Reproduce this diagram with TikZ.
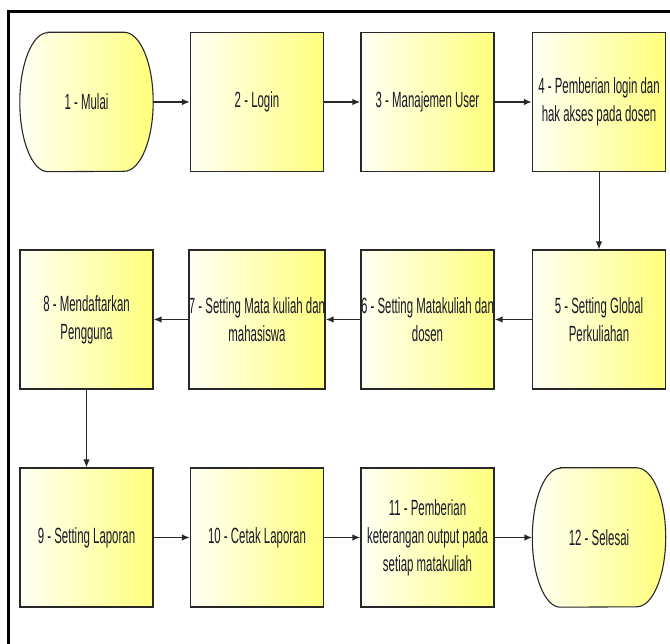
\documentclass[tikz,border=0pt]{standalone}
\usepackage{fontspec}
\setmainfont{Liberation Sans}[FakeStretch=0.52]
\usetikzlibrary{arrows.meta}
\definecolor{boxleft}{RGB}{255,255,245}
\definecolor{boxright}{RGB}{255,255,125}
\definecolor{txt}{RGB}{25,25,40}
\definecolor{edge}{RGB}{40,40,40}
\tikzset{
  x=1bp, y=1bp,
  label text/.style={font=\fontsize{22bp}{28bp}\selectfont, text=txt, align=center, inner sep=0pt},
  procbox/.style={label text, draw=edge, line width=1.3bp, shading=axis, left color=boxleft, right color=boxright,
    minimum width=133bp, minimum height=139bp},
  termbox/.style={label text, minimum width=133bp, minimum height=139bp},
  termshape/.style={draw=edge, line width=1.1bp, shading=axis, left color=boxleft, right color=boxright},
  flow/.style={draw=edge, line width=1.4bp, -{Latex[length=8bp,width=6.5bp]}},
  vflow/.style={flow, line width=1bp},
  frameline/.style={draw=black, line width=2.5bp}
}
\begin{document}
\begin{tikzpicture}
\useasboundingbox (0,0) rectangle (670,644);
\clip (0,0) rectangle (670,644);
\fill[white] (0,0) rectangle (670,644);
% outer frame
\coordinate (fbl) at (8.5,-10);
\coordinate (ftr) at (690,632.5);
\draw[frameline] (fbl) |- (ftr);

% terminal shapes (drawn behind their nodes)
\newcommand{\termpath}[1]{%
  \path[termshape] ([xshift=28bp]#1.north west) -- ([xshift=-29bp]#1.north east)
    arc[start angle=90,end angle=-90,x radius=29bp,y radius=69.5bp]
    -- ([xshift=28bp]#1.south west)
    arc[start angle=270,end angle=90,x radius=28bp,y radius=69.5bp] -- cycle;}

% row 1
\node[termbox] (n1) at (86.5,542) {};
\termpath{n1}
\node[label text] (t1) at (n1.center) {1 - Mulai};
\node[procbox] (n2) at (257,542) {2 - Login};
\node[procbox] (n3) at (427.5,542) {3 - Manajemen User};
\node[procbox] (n4) at (599,542) {4 - Pemberian login dan\\hak akses pada dosen};
% row 2
\node[procbox] (n8) at (86.5,324.5) {8 - Mendaftarkan\\Pengguna};
\node[procbox] (n7) at (257,324.5) {7 - Setting Mata kuliah dan\\mahasiswa};
\node[procbox] (n6) at (427.5,324.5) {6 - Setting Matakuliah dan\\dosen};
\node[procbox] (n5) at (599,324.5) {5 - Setting Global\\Perkuliahan};
% row 3
\node[procbox] (n9) at (86.5,106.5) {9 - Setting Laporan};
\node[procbox] (n10) at (257,106.5) {10 - Cetak Laporan};
\node[procbox] (n11) at (427.5,106.5) {11 - Pemberian\\keterangan output pada\\setiap matakuliah};
\node[termbox] (n12) at (599,106.5) {};
\termpath{n12}
\node[label text] (t12) at (n12.center) {12 - Selesai};

% connectors
\draw[flow] (n1.east) -- (n2.west);
\draw[flow] (n2) -- (n3);
\draw[flow] (n3) -- (n4);
\draw[vflow] (n4) -- (n5);
\draw[flow] (n5) -- (n6);
\draw[flow] (n6) -- (n7);
\draw[flow] (n7) -- (n8);
\draw[vflow] (n8) -- (n9);
\draw[flow] (n9) -- (n10);
\draw[flow] (n10) -- (n11);
\draw[flow] (n11.east) -- (n12.west);
\end{tikzpicture}
\end{document}
